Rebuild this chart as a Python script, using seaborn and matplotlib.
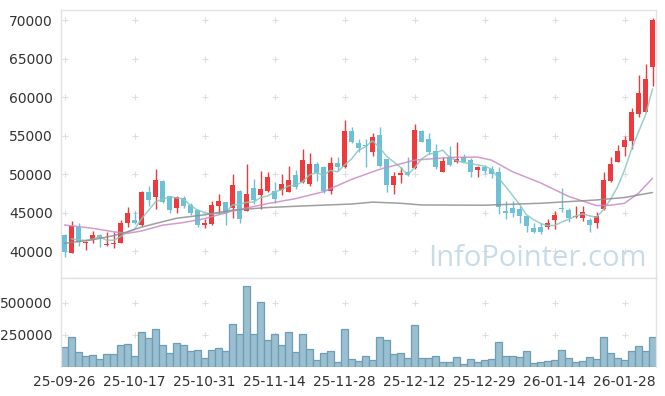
import numpy as np
import pandas as pd
import matplotlib
matplotlib.use("Agg")
import matplotlib.pyplot as plt
import seaborn as sns

# daily candles (KRW)
opens = [42100, 39800, 43150, 41050, 41500, 42100, 40750, 40850, 41100, 43600,
         44000, 43400, 47650, 47000, 49100, 47100, 45600, 46850, 45950, 45300,
         43400, 43500, 45850, 46350, 45550, 47800, 45250, 48200, 47300, 47850,
         47750, 47950, 47700, 49900, 49000, 48650, 51300, 50900, 47850, 51400,
         50900, 55650, 54000, 53800, 52900, 55100, 51950, 48600, 49900, 50250,
         50750, 55600, 54550, 53000, 50300, 52200, 51500, 52250, 51800, 50550,
         50900, 50600, 50300, 45200, 45550, 45400, 44550, 42950, 43100, 43150,
         44000, 45650, 45350, 44400, 44250, 44050, 43600, 45450, 49150, 51550,
         53450, 54350, 57850, 58100, 63900]
closes = [39900, 43250, 41200, 41200, 42050, 41700, 40900, 41100, 43600, 44900,
          43600, 47650, 46600, 49200, 46400, 45300, 47000, 45900, 45000, 43400,
          43700, 46000, 46550, 45000, 48600, 44100, 47400, 46600, 48050, 49600,
          46750, 48700, 49250, 48350, 51850, 51300, 50100, 47750, 51400, 50900,
          55600, 54100, 53400, 53700, 54800, 51100, 48600, 49750, 50100, 49900,
          55750, 54200, 52900, 50950, 51700, 51200, 51950, 51600, 50300, 50850,
          50450, 50000, 45700, 45000, 45000, 44600, 43300, 42500, 42500, 43600,
          44700, 45450, 44300, 44600, 45100, 43400, 44550, 49250, 51300, 53050,
          54450, 58000, 60500, 62350, 70000]
highs = [42200, 43900, 43700, 41250, 42600, 42200, 42500, 42500, 44000, 45750,
         45200, 47800, 48400, 50700, 49200, 47200, 47100, 47150, 46300, 45400,
         44200, 46550, 47400, 46400, 50000, 47900, 51300, 49300, 50350, 50250,
         48900, 50000, 51050, 50550, 53200, 52700, 51600, 51000, 52250, 52250,
         56950, 56100, 54550, 54550, 55300, 56150, 52000, 50300, 50950, 52250,
         56450, 55700, 55300, 53900, 52150, 53650, 54150, 52550, 52100, 51100,
         51200, 51000, 50850, 46550, 46550, 45800, 44600, 43700, 43700, 44100,
         45200, 48150, 45600, 45850, 45850, 44300, 45100, 50200, 52250, 53800,
         54950, 58550, 62850, 64300, 70250]
lows = [39200, 39800, 40650, 40100, 41000, 40500, 40700, 40400, 41000, 43150,
        43500, 43300, 45850, 45400, 46300, 45000, 44900, 45550, 44700, 43150,
        42950, 43400, 44800, 43400, 44250, 43600, 45200, 46050, 45400, 47700,
        46300, 47250, 47600, 48100, 48800, 48500, 49100, 47500, 47400, 50350,
        50800, 54000, 52900, 50950, 52400, 50950, 47700, 47350, 48800, 49800,
        50600, 54100, 52550, 50700, 50200, 51100, 51400, 51500, 49650, 49650,
        50000, 49450, 44800, 44100, 44400, 43600, 42450, 42300, 42200, 42800,
        42850, 45100, 43750, 44350, 43950, 42500, 42950, 45300, 49000, 51500,
        52400, 53200, 57450, 58000, 61450]
volume = [153600, 231800, 114600, 83300, 91100, 59900, 98900, 98900, 169300, 177000,
          83300, 270800, 223900, 294300, 169300, 106800, 184900, 169300, 122400, 130200,
          67700, 130200, 145800, 122400, 333300, 255200, 630200, 255200, 505200, 208300,
          255200, 169300, 270800, 114600, 255200, 138000, 52100, 106800, 122400, 36500,
          294300, 59900, 44300, 83300, 52100, 231800, 208300, 98900, 106800, 67700,
          325500, 67700, 67700, 83300, 36500, 36500, 75500, 20800, 59900, 36500,
          52100, 59900, 192700, 83300, 83300, 75500, 122400, 28600, 36500, 44300,
          52100, 130200, 67700, 36500, 44300, 75500, 59900, 231800, 106800, 67700,
          52100, 122400, 161400, 122400, 231800]

# 20- and 60-day averages as drawn on the reference (they need history before the window)
ma20_day = [0, 4, 7, 9, 11, 14, 17, 20, 24, 29, 33, 37, 41, 45, 50, 55, 59, 61, 64, 68, 72, 76, 78, 80, 82, 84]
ma20_val = [43380, 42950, 42500, 42300, 42600, 43350, 43700, 44200, 45200, 46150, 46800, 47700, 49300,
            50600, 51800, 52150, 52200, 51800, 50300, 48850, 47100, 45900, 45950, 46200, 47500, 49450]
ma60_day = [0, 4, 7, 9, 11, 14, 16, 20, 24, 29, 34, 41, 44, 48, 51, 60, 68, 76, 80, 84]
ma60_val = [41000, 41450, 42000, 42500, 43100, 43800, 44250, 44700, 45300, 45650, 45850, 46100,
            46350, 46200, 45980, 45950, 46200, 46630, 46950, 47600]

tick_pos = [0, 10, 20, 30, 40, 50, 60, 70, 80]
tick_labels = ["25-09-26", "25-10-17", "25-10-31", "25-11-14", "25-11-28",
               "25-12-12", "25-12-29", "26-01-14", "26-01-28"]

UP = "#ee3a3c"
DOWN = "#6cc1d8"

sns.set_style("white")
plt.rcParams["font.family"] = ["DejaVu Sans"]

days = np.arange(len(closes))
df = pd.DataFrame({"day": days, "open": opens, "close": closes,
                   "high": highs, "low": lows, "volume": volume})
df["ma5"] = df["close"].rolling(5, min_periods=2).mean()
colors = [UP if c >= o else DOWN for o, c in zip(df["open"], df["close"])]

fig = plt.figure(figsize=(6.65, 3.96), dpi=100)
ax = fig.add_axes([61 / 665, 1 - 277.5 / 396, 595 / 665, 267.5 / 396])
axv = fig.add_axes([61 / 665, 1 - 367 / 396, 595 / 665, 89 / 396])

# candles
body_low = df[["open", "close"]].min(axis=1)
body_h = np.maximum((df["close"] - df["open"]).abs(), 80)
ax.vlines(df["day"], df["low"], df["high"], colors=colors, linewidth=1.0, zorder=2)
ax.bar(df["day"], body_h, bottom=body_low, width=0.72, color=colors, linewidth=0, zorder=3)

# moving averages
sns.lineplot(x=df["day"], y=df["ma5"], ax=ax, color="#86c9bd", linewidth=1.1, alpha=0.85, zorder=4)
sns.lineplot(x=ma20_day, y=ma20_val, ax=ax, color="#c98bc6", linewidth=1.1, alpha=0.85, zorder=4)
sns.lineplot(x=ma60_day, y=ma60_val, ax=ax, color="#8e8e8e", linewidth=1.1, alpha=0.85, zorder=4)

ax.set_xlim(-0.5, len(closes) - 0.5)
ax.set_ylim(36560, 71300)
yt = [40000, 45000, 50000, 55000, 60000, 65000, 70000]
ax.set_yticks(yt)
ax.set_yticklabels([str(v) for v in yt])
ax.set_xticks(tick_pos)
ax.set_xticklabels([])
ax.set_xlabel("")
ax.set_ylabel("")

# faint "+" grid marks
gx, gy = np.meshgrid(tick_pos, yt)
ax.scatter(gx.ravel(), gy.ravel(), marker="+", s=14, color="#dedede", linewidth=0.8, zorder=1)

ax.text(83.2, 38050, "InfoPointer.com", ha="right", va="baseline",
        fontsize=21, family="Open Sans", color="#c0d5e2", alpha=0.85, zorder=5)

# volume
sns.barplot(x=df["day"], y=df["volume"], ax=axv, native_scale=True, width=1.0,
            color="#99bfd0", edgecolor="#6f9db3", linewidth=0.9, saturation=1)
axv.set_xlim(-0.5, len(closes) - 0.5)
axv.set_ylim(0, 695000)
axv.set_yticks([250000, 500000])
axv.set_yticklabels(["250000", "500000"])
axv.set_xticks(tick_pos)
axv.set_xticklabels(tick_labels)
axv.set_xlabel("")
axv.set_ylabel("")
vx, vy = np.meshgrid(tick_pos, [250000, 500000])
axv.scatter(vx.ravel(), vy.ravel(), marker="+", s=14, color="#dedede", linewidth=0.8, zorder=0)

for a in (ax, axv):
    a.tick_params(length=0, labelsize=10, colors="#333333", pad=6)
    for s in a.spines.values():
        s.set_color("#e2e2e2")
        s.set_linewidth(1)
axv.spines["bottom"].set_visible(False)

fig.savefig("out.png", dpi=100)
